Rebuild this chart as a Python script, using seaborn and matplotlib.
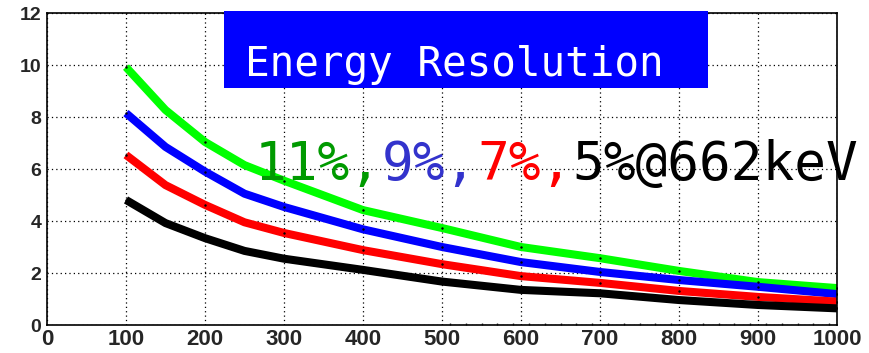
import numpy as np
import pandas as pd
import matplotlib
matplotlib.use("Agg")
import matplotlib.pyplot as plt
from matplotlib import font_manager
from matplotlib.patches import Rectangle
import seaborn as sns

# Energy points (keV) and resolution curves for four reference resolutions at 662 keV
energy = [100, 150, 200, 250, 300, 400, 500, 600, 700, 800, 900, 1000]
res_11 = [9.92, 8.27, 7.04, 6.15, 5.55, 4.42, 3.73, 3.00, 2.57, 2.08, 1.65, 1.42]
res_9 = [8.15, 6.85, 5.90, 5.05, 4.54, 3.68, 3.00, 2.42, 2.04, 1.73, 1.47, 1.19]
res_7 = [6.54, 5.38, 4.62, 3.95, 3.54, 2.88, 2.34, 1.88, 1.62, 1.31, 1.08, 0.90]
res_5 = [4.81, 3.92, 3.34, 2.85, 2.55, 2.12, 1.67, 1.35, 1.22, 0.96, 0.77, 0.64]

series_names = ["11%", "9%", "7%", "5%"]
line_colors = ["#00ff00", "#0000ff", "#ff0000", "#000000"]
label_colors = ["#009a00", "#3333cc", "#ff0000", "#000000"]
label_parts = ["11%,", "9%,", "7%,", "5%@662keV"]
title_text = "Energy Resolution"

x_ticks = [0, 100, 200, 300, 400, 500, 600, 700, 800, 900, 1000]
y_ticks = [0, 2, 4, 6, 8, 10, 12]

df = pd.DataFrame({
    "energy": energy * 4,
    "resolution": res_11 + res_9 + res_7 + res_5,
    "series": np.repeat(series_names, len(energy)),
})
# point markers only at the 100 keV steps
marks = df[df["energy"] % 100 == 0]

sns.set_theme(style="white")
available = {f.name for f in font_manager.fontManager.ttflist}
narrow = "Liberation Sans Narrow" if "Liberation Sans Narrow" in available else None
tick_font = "Liberation Sans" if "Liberation Sans" in available else "DejaVu Sans"
plt.rcParams["font.family"] = [tick_font, "DejaVu Sans"]

fig = plt.figure(figsize=(8.69, 3.53), dpi=100)
ax = fig.add_axes([47 / 869, 28 / 353, 790 / 869, 312 / 353])

sns.lineplot(data=df, x="energy", y="resolution", hue="series",
             palette=dict(zip(series_names, line_colors)), linewidth=5.8,
             legend=False, ax=ax, solid_capstyle="butt", sort=False)
sns.scatterplot(data=marks, x="energy", y="resolution", color="black", s=3,
                linewidth=0, legend=False, ax=ax, zorder=5)

ax.set_xlim(0, 1000)
ax.set_ylim(0, 12)
ax.set_xlabel("")
ax.set_ylabel("")
ax.set_xticks(x_ticks)
ax.set_yticks(y_ticks)
ax.set_xticks(np.arange(0, 1001, 20), minor=True)
ax.set_yticks(np.arange(0, 12.01, 0.5), minor=True)
ax.set_xticklabels([str(t) for t in x_ticks], fontsize=16, fontweight="bold")
ax.set_yticklabels([str(t) for t in y_ticks], fontsize=14, fontweight="bold")
ax.tick_params(axis="x", which="major", direction="in", length=7, width=1, pad=3)
ax.tick_params(axis="x", which="minor", direction="in", length=3.5, width=1)
ax.tick_params(axis="y", which="major", direction="in", length=18, width=1, pad=4)
ax.tick_params(axis="y", which="minor", direction="in", length=9, width=1)
ax.grid(True, which="major", color="black", linestyle=(0, (1, 2.5)), linewidth=0.9)
for side in ["left", "bottom", "top", "right"]:
    ax.spines[side].set_visible(True)
    ax.spines[side].set_color("black")
    ax.spines[side].set_linewidth(1.2)

# finer sub-ticks along the upper half of the energy axis
sec = ax.secondary_xaxis("bottom")
sec.set_xticks(np.arange(510, 1000, 20))
sec.set_xticklabels([])
sec.tick_params(direction="in", length=1.5, width=1)
sec.spines["bottom"].set_visible(False)

# title banner
fig.patches.append(Rectangle((224 / 869, 1 - 88 / 353), 484 / 869, 77 / 353,
                             transform=fig.transFigure, facecolor="#0000ff",
                             edgecolor="none", zorder=3))
if narrow:
    title_kw = dict(family=[narrow, "DejaVu Sans"], fontsize=43)
else:
    title_kw = dict(family=["DejaVu Sans Mono"], fontsize=29.5)
fig.text(245 / 869, 1 - 76 / 353, title_text, color="white", ha="left",
         va="baseline", zorder=4, **title_kw)

# coloured resolution label, one segment per curve
if narrow:
    label_kw = dict(family=[narrow, "DejaVu Sans"], fontsize=47)
else:
    label_kw = dict(family=["DejaVu Sans Mono"], fontsize=38)
prev = fig.text(255 / 869, 1 - 180 / 353, label_parts[0], color=label_colors[0],
                ha="left", va="baseline", zorder=4, **label_kw)
for part, col in zip(label_parts[1:], label_colors[1:]):
    prev = ax.annotate(part, xy=(1, 0), xycoords=prev, ha="left", va="bottom",
                       color=col, zorder=4, annotation_clip=False, **label_kw)

fig.savefig("out.png", dpi=100, facecolor="white")
